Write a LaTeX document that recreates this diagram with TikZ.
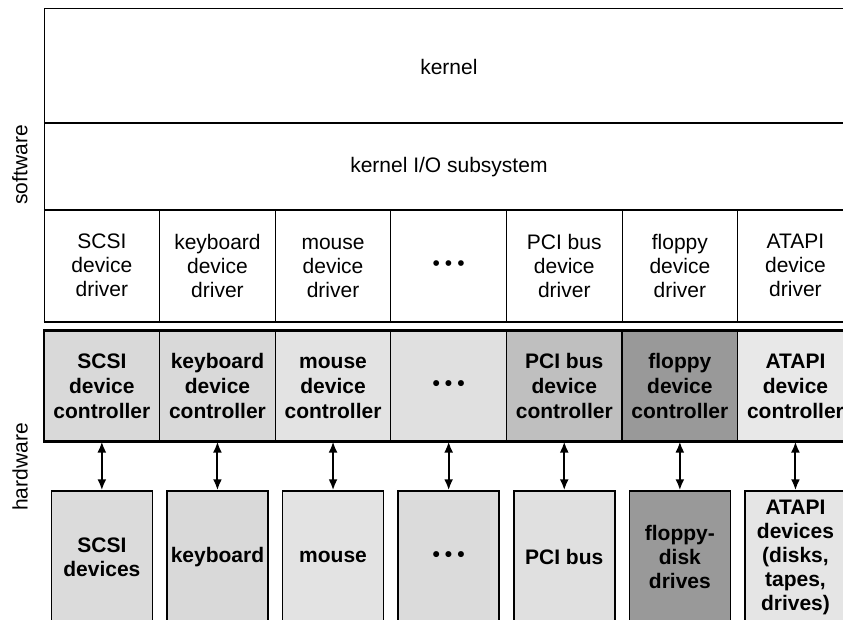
\documentclass[tikz,border=0pt]{standalone}
\usepackage{fontspec}
\setmainfont{Liberation Sans}
\usepackage{xcolor}
\colorlet{frameline}{black}
\usepackage{tikz}
\usetikzlibrary{arrows.meta,positioning}
\newcommand{\dotrow}{\textbullet\hspace{5pt}\textbullet\hspace{5pt}\textbullet}

\begin{document}
\begin{tikzpicture}[
  x=1pt, y=-1pt,
  font=\fontsize{21}{24}\selectfont,
  layer/.style={
    rectangle, draw=frameline, line width=1pt,
    minimum width=809.2pt, inner sep=0pt
  },
  drv/.style={
    rectangle, draw=frameline, line width=1pt,
    minimum width=115.6pt, minimum height=111pt,
    align=center, inner sep=0pt
  },
  ctl/.style={
    rectangle, draw=frameline, line width=1.2pt, fill=black!#1,
    minimum width=115.6pt, minimum height=110pt,
    align=center, inner sep=0pt, font=\fontsize{21}{25}\selectfont\bfseries
  },
  dev/.style={
    rectangle, draw=frameline, line width=1.5pt, fill=black!#1,
    minimum width=101pt, minimum height=132pt,
    align=center, inner sep=0pt, font=\fontsize{21}{24}\selectfont\bfseries
  },
  side/.style={rotate=90},
  heavy/.style={line width=2pt},
  dbl/.style={{Latex[length=11pt,width=9pt]}-{Latex[length=11pt,width=9pt]}, line width=2pt}
]
\useasboundingbox (0,0) rectangle (843,620);
\clip (0,0) rectangle (843,620);

\node[layer, minimum height=115pt] (kern) at (448.9,66.5) {kernel};
\node[layer, minimum height=86pt] (kio) at (448.9,167) {kernel I/O subsystem};

\node[side] (sw) at (20,165) {software};
\node[side] (hw) at (20,467) {hardware};

\foreach \i/\t in {1/{SCSI\\device\\driver},2/{keyboard\\device\\driver},
    3/{\vphantom{k}mouse\\device\\driver},4/{\dotrow},5/{PCI bus\\device\\driver},
    6/{floppy\\device\\driver},7/{ATAPI\\device\\driver}} {
  \node[drv] (drv\i) at ({101.85+115.6*(\i-1)},265.5) {\t};
}
\foreach \i/\t/\g in {1/{SCSI\\device\\controller}/15,2/{keyboard\\device\\controller}/15,
    3/{\vphantom{k}mouse\\device\\controller}/11,4/{\dotrow}/12,5/{PCI bus\\device\\controller}/25,
    6/{floppy\\device\\controller}/40,7/{ATAPI\\device\\controller}/9} {
  \node[ctl=\g] (ctl\i) at ({101.85+115.6*(\i-1)},386) {\t};
}
\foreach \i/\t/\g in {1/{SCSI\\devices}/14,2/{keyboard}/15,3/{\vphantom{ky}mouse}/11,
    4/{\dotrow}/14,5/{PCI bus}/12,6/{floppy-\\disk\\drives}/40,
    7/{ATAPI\\devices\\(disks,\\tapes,\\drives)}/10} {
  \node[dev=\g] (dev\i) at ({101.85+115.6*(\i-1)},557) {\t};
}

\foreach \i in {1,...,7} {
  \draw[dbl] (ctl\i.south) -- (dev\i.north);
}
\draw[heavy] (kio.north west) -- (kio.north east);
\draw[heavy] (kio.south west) -- (kio.south east);
\draw[heavy] (drv1.south west) -- (drv7.south east);
\draw[heavy] (ctl1.north west) -- (ctl7.north east);
\draw[heavy] (ctl1.south west) -- (ctl7.south east);
\end{tikzpicture}
\end{document}
